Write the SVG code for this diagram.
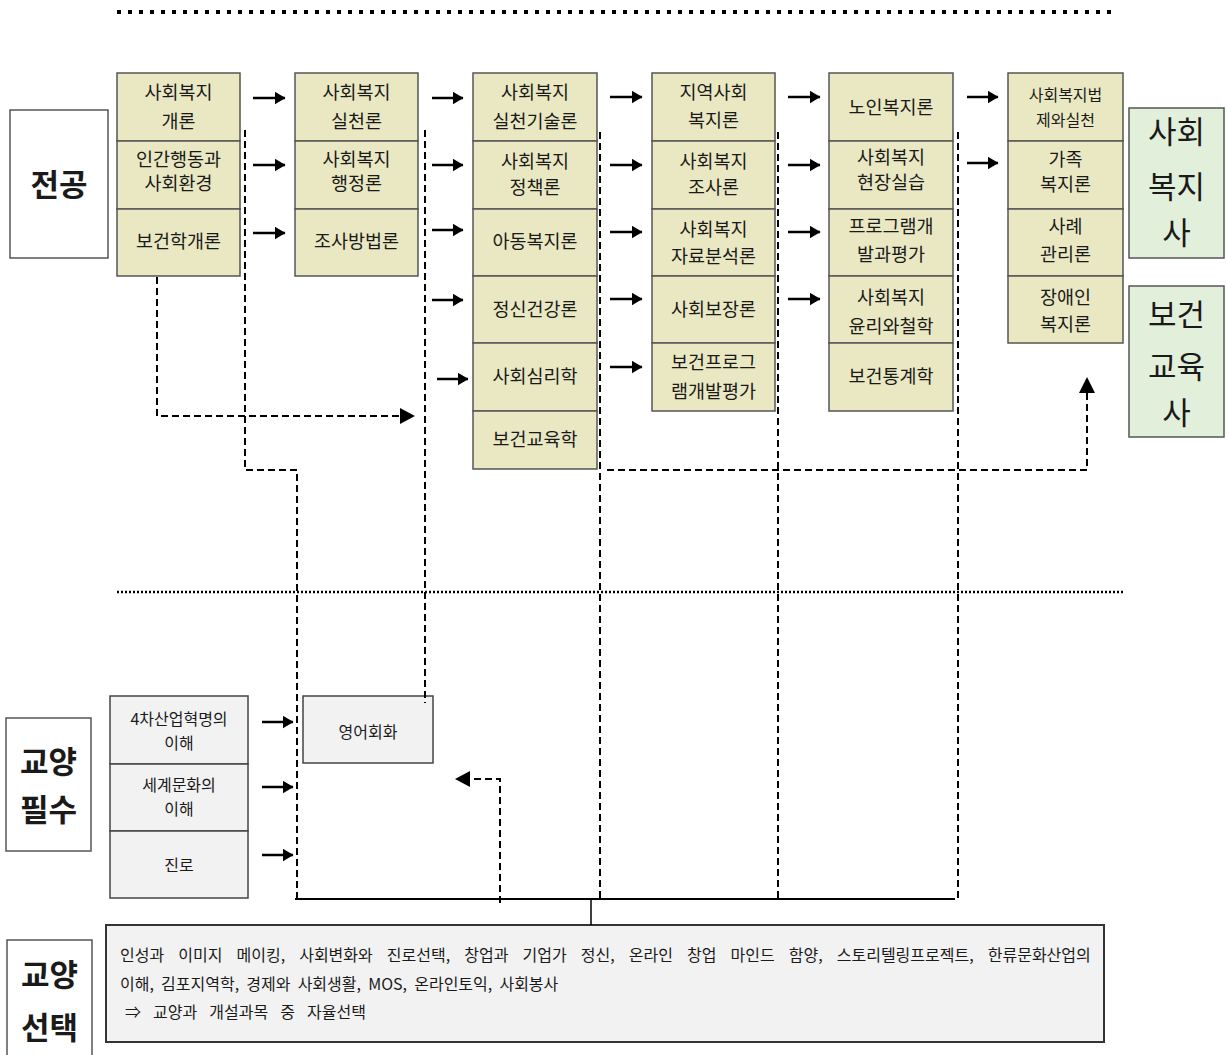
<svg xmlns="http://www.w3.org/2000/svg" width="1227" height="1055" viewBox="0 0 1227 1055">
<defs>
<marker id="ah" viewBox="0 0 11 13" refX="10.5" refY="6.5" markerWidth="11" markerHeight="13" markerUnits="userSpaceOnUse" orient="auto"><path d="M0,0 L11,6.5 L0,13 z" fill="#000"/></marker>
<style>
.c{fill:#e9e8c2;stroke:#555;stroke-width:1.5}
.g{fill:#f2f2f2;stroke:#444;stroke-width:1.5}
.gr{fill:#e2efda;stroke:#555;stroke-width:1.5}
.lb{fill:#fff;stroke:#555;stroke-width:1.5}
text{font-family:"Noto Sans CJK KR","Noto Sans",sans-serif;fill:#1a1a1a;text-anchor:middle}
.t{font-size:18.5px}
.ts{font-size:16px}
.tg{font-size:16px}
.big{font-size:31px}
.lbl{font-size:31px;font-weight:bold}
.bt{font-size:16px;text-anchor:start}
.sa{stroke:#000;stroke-width:2.5;fill:none;marker-end:url(#ah)}
.da{stroke:#000;stroke-width:2;fill:none;stroke-dasharray:7 4}
</style>
</defs>
<rect width="1227" height="1055" fill="#fff"/>
<line x1="117" y1="12" x2="1118" y2="12" stroke="#000" stroke-width="4" stroke-dasharray="4 7"/>
<line x1="117" y1="592" x2="1125" y2="592" stroke="#000" stroke-width="2.5" stroke-dasharray="2 2"/>

<g id="label-major"><rect class="lb" x="10" y="110" width="98" height="148"/><text class="lbl" x="59" y="196">전공</text></g>
<g id="label-req"><rect class="lb" x="6" y="718" width="85" height="133"/><text class="lbl" x="48.5" y="773">교양</text><text class="lbl" x="48.5" y="821">필수</text></g>
<g id="label-sel"><rect class="lb" x="7" y="940" width="85" height="130"/><text class="lbl" x="49.5" y="986">교양</text><text class="lbl" x="49.5" y="1039">선택</text></g>

<g id="col1">
<rect class="c" x="117" y="73" width="123" height="68"/><rect class="c" x="117" y="141" width="123" height="68"/><rect class="c" x="117" y="209" width="123" height="67"/>
<text class="t" x="178.5" y="99">사회복지</text><text class="t" x="178.5" y="128">개론</text>
<text class="t" x="178.5" y="166">인간행동과</text><text class="t" x="178.5" y="190">사회환경</text>
<text class="t" x="178.5" y="248">보건학개론</text>
</g>
<g id="col2">
<rect class="c" x="295" y="73" width="123" height="68"/><rect class="c" x="295" y="141" width="123" height="68"/><rect class="c" x="295" y="209" width="123" height="67"/>
<text class="t" x="356.5" y="99">사회복지</text><text class="t" x="356.5" y="128">실천론</text>
<text class="t" x="356.5" y="166">사회복지</text><text class="t" x="356.5" y="190">행정론</text>
<text class="t" x="356.5" y="248">조사방법론</text>
</g>
<g id="col3">
<rect class="c" x="473" y="73" width="124" height="68"/><rect class="c" x="473" y="141" width="124" height="68"/><rect class="c" x="473" y="209" width="124" height="67"/><rect class="c" x="473" y="276" width="124" height="67"/><rect class="c" x="473" y="343" width="124" height="68"/><rect class="c" x="473" y="411" width="124" height="58"/>
<text class="t" x="535" y="99">사회복지</text><text class="t" x="535" y="128">실천기술론</text>
<text class="t" x="535" y="168">사회복지</text><text class="t" x="535" y="194">정책론</text>
<text class="t" x="535" y="248">아동복지론</text>
<text class="t" x="535" y="316">정신건강론</text>
<text class="t" x="535" y="383">사회심리학</text>
<text class="t" x="535" y="446">보건교육학</text>
</g>
<g id="col4">
<rect class="c" x="652" y="73" width="123" height="68"/><rect class="c" x="652" y="141" width="123" height="68"/><rect class="c" x="652" y="209" width="123" height="67"/><rect class="c" x="652" y="276" width="123" height="67"/><rect class="c" x="652" y="343" width="123" height="68"/>
<text class="t" x="713.5" y="99">지역사회</text><text class="t" x="713.5" y="127">복지론</text>
<text class="t" x="713.5" y="168">사회복지</text><text class="t" x="713.5" y="194">조사론</text>
<text class="t" x="713.5" y="236">사회복지</text><text class="t" x="713.5" y="263">자료분석론</text>
<text class="t" x="713.5" y="316">사회보장론</text>
<text class="t" x="713.5" y="369">보건프로그</text><text class="t" x="713.5" y="398">램개발평가</text>
</g>
<g id="col5">
<rect class="c" x="829" y="73" width="124" height="68"/><rect class="c" x="829" y="141" width="124" height="68"/><rect class="c" x="829" y="209" width="124" height="67"/><rect class="c" x="829" y="276" width="124" height="67"/><rect class="c" x="829" y="343" width="124" height="68"/>
<text class="t" x="891" y="114">노인복지론</text>
<text class="t" x="891" y="164">사회복지</text><text class="t" x="891" y="189">현장실습</text>
<text class="t" x="891" y="233">프로그램개</text><text class="t" x="891" y="261">발과평가</text>
<text class="t" x="891" y="304">사회복지</text><text class="t" x="891" y="333">윤리와철학</text>
<text class="t" x="891" y="383">보건통계학</text>
</g>
<g id="col6">
<rect class="c" x="1008" y="73" width="115" height="68"/><rect class="c" x="1008" y="141" width="115" height="68"/><rect class="c" x="1008" y="209" width="115" height="67"/><rect class="c" x="1008" y="276" width="115" height="67"/>
<text class="ts" x="1065.5" y="100.5">사회복지법</text><text class="ts" x="1065.5" y="125.5">제와실천</text>
<text class="t" x="1065.5" y="166">가족</text><text class="t" x="1065.5" y="191">복지론</text>
<text class="t" x="1065.5" y="233">사례</text><text class="t" x="1065.5" y="261">관리론</text>
<text class="t" x="1065.5" y="304">장애인</text><text class="t" x="1065.5" y="331">복지론</text>
</g>
<g id="cert-sw"><rect class="gr" x="1129" y="108" width="95" height="150"/><text class="big" x="1176.5" y="143">사회</text><text class="big" x="1176.5" y="198">복지</text><text class="big" x="1176.5" y="244">사</text></g>
<g id="cert-he"><rect class="gr" x="1129" y="286" width="95" height="151"/><text class="big" x="1176.5" y="326">보건</text><text class="big" x="1176.5" y="378">교육</text><text class="big" x="1176.5" y="424">사</text></g>

<g id="req-list">
<rect class="g" x="110" y="696" width="138" height="68"/><rect class="g" x="110" y="764" width="138" height="67"/><rect class="g" x="110" y="831" width="138" height="67"/>
<text class="tg" x="179" y="724.5">4차산업혁명의</text><text class="tg" x="179" y="748.5">이해</text>
<text class="tg" x="179" y="790.5">세계문화의</text><text class="tg" x="179" y="814.5">이해</text>
<text class="tg" x="179" y="870.5">진로</text>
</g>
<g id="english"><rect class="g" x="303" y="696" width="130" height="67"/><text class="tg" x="368" y="737.5">영어회화</text></g>
<g id="electives">
<rect x="106" y="925" width="998" height="117" fill="#f2f2f2" stroke="#333" stroke-width="2"/>
<text class="bt" x="120" y="960.5" word-spacing="10.5">인성과 이미지 메이킹, 사회변화와 진로선택, 창업과 기업가 정신, 온라인 창업 마인드 함양, 스토리텔링프로젝트, 한류문화산업의</text>
<text class="bt" x="120" y="989.5" word-spacing="3.6">이해, 김포지역학, 경제와 사회생활, MOS, 온라인토익, 사회봉사</text>
<text class="bt" x="125" y="1017.5" word-spacing="8.5">⇒ 교양과 개설과목 중 자율선택</text>
</g>

<g id="connectors">
<line class="sa" x1="253" y1="98" x2="285" y2="98"/><line class="sa" x1="253" y1="165" x2="285" y2="165"/><line class="sa" x1="253" y1="233" x2="285" y2="233"/>
<line class="sa" x1="432" y1="98" x2="463" y2="98"/><line class="sa" x1="432" y1="165" x2="463" y2="165"/><line class="sa" x1="432" y1="230" x2="463" y2="230"/><line class="sa" x1="432" y1="300" x2="463" y2="300"/><line class="sa" x1="437" y1="379" x2="468" y2="379"/>
<line class="sa" x1="610" y1="97" x2="642" y2="97"/><line class="sa" x1="610" y1="165" x2="642" y2="165"/><line class="sa" x1="610" y1="232" x2="642" y2="232"/><line class="sa" x1="610" y1="299" x2="642" y2="299"/><line class="sa" x1="610" y1="367" x2="642" y2="367"/>
<line class="sa" x1="788" y1="97" x2="820" y2="97"/><line class="sa" x1="788" y1="165" x2="820" y2="165"/><line class="sa" x1="788" y1="232" x2="820" y2="232"/><line class="sa" x1="788" y1="299" x2="820" y2="299"/>
<line class="sa" x1="967" y1="97" x2="998" y2="97"/><line class="sa" x1="967" y1="163" x2="998" y2="163"/>
<line class="sa" x1="262" y1="722" x2="293" y2="722"/><line class="sa" x1="262" y1="787" x2="293" y2="787"/><line class="sa" x1="262" y1="855" x2="293" y2="855"/>
<path class="da" d="M157,277 V416 H402"/><path d="M400,408 L415,416 L400,424 z" fill="#000"/>
<path class="da" d="M245,130 V470 H297 V900"/>
<path class="da" d="M425,130 V703"/>
<path class="da" d="M600,132 V900"/>
<path class="da" d="M778,132 V900"/>
<path class="da" d="M958,132 V900"/>
<path class="da" d="M607,470 H1087 V392"/><path d="M1079,393 L1087,377 L1095,393 z" fill="#000"/>
<path class="da" d="M500,903 V779 H468"/><path d="M470,771 L455,779 L470,787 z" fill="#000"/>
<line x1="295" y1="899" x2="955" y2="899" stroke="#000" stroke-width="2"/>
<line x1="591" y1="899" x2="591" y2="925" stroke="#000" stroke-width="1.5"/>
</g>
</svg>
